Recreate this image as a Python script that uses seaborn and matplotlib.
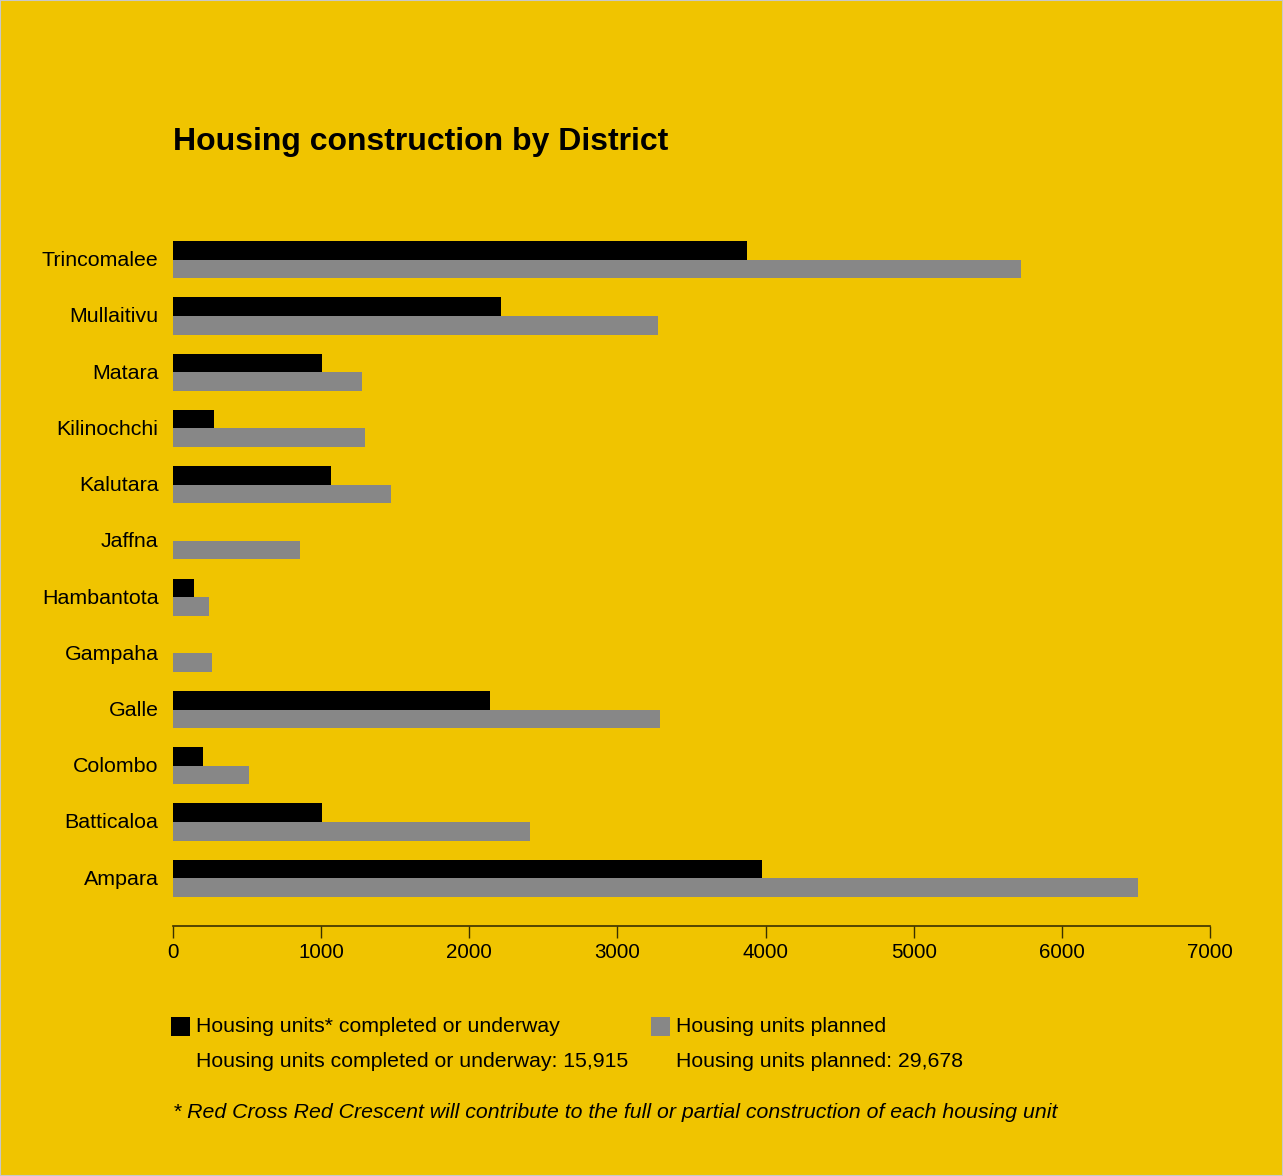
import matplotlib
matplotlib.use("Agg")
import matplotlib.pyplot as plt
from matplotlib.patches import Rectangle
import seaborn as sns
import pandas as pd

districts = ["Trincomalee", "Mullaitivu", "Matara", "Kilinochchi", "Kalutara", "Jaffna",
             "Hambantota", "Gampaha", "Galle", "Colombo", "Batticaloa", "Ampara"]
completed = [3875, 2215, 1005, 277, 1067, 0, 142, 0, 2140, 203, 1006, 3977]
planned = [5725, 3275, 1276, 1296, 1472, 858, 243, 263, 3288, 513, 2410, 6516]
series = ["Housing units* completed or underway", "Housing units planned"]
xticks = [0, 1000, 2000, 3000, 4000, 5000, 6000, 7000]
title = "Housing construction by District"
total_lines = ["Housing units completed or underway: 15,915", "Housing units planned: 29,678"]
footnote = "* Red Cross Red Crescent will contribute to the full or partial construction of each housing unit"

BG = "#F0C400"
COLORS = ["#000000", "#878787"]

df = pd.DataFrame({
    "District": districts * 2,
    "Units": completed + planned,
    "Series": [series[0]] * len(districts) + [series[1]] * len(districts),
})

sns.set_theme(style="white")
plt.rcParams["font.family"] = ["Liberation Sans", "DejaVu Sans"]
plt.rcParams["text.color"] = "black"
plt.rcParams["axes.labelcolor"] = "black"
plt.rcParams["xtick.color"] = "black"
plt.rcParams["ytick.color"] = "black"

W, H = 1283, 1176
fig = plt.figure(figsize=(W / 100, H / 100), dpi=100, facecolor=BG)
ax = fig.add_axes([173 / W, 1 - 926 / H, (1210 - 173) / W, (926 - 226) / H])
ax.set_facecolor(BG)

sns.barplot(data=df, y="District", x="Units", hue="Series", order=districts,
            hue_order=series, palette=COLORS, orient="h", width=0.66,
            linewidth=0, saturation=1, ax=ax, legend=False)

ax.set_xlim(0, 7000)
ax.set_ylim(11.85, -0.6)
ax.set_xticks(xticks)
ax.set_xticklabels([str(t) for t in xticks])
ax.set_xlabel("")
ax.set_ylabel("")
for s in ["top", "right", "left"]:
    ax.spines[s].set_visible(False)
ax.spines["bottom"].set_color("#3a3000")
ax.spines["bottom"].set_linewidth(1.2)
ax.tick_params(axis="x", direction="out", length=8.5, width=1, color="#3a3000",
               labelsize=14.8, pad=3.5, labelcolor="black", bottom=True)
ax.tick_params(axis="y", length=0, labelsize=15.4, pad=10.5, labelcolor="black")
shift = matplotlib.transforms.ScaledTranslation(0, 1 / 100, fig.dpi_scale_trans)
for lbl in ax.get_yticklabels():
    lbl.set_transform(lbl.get_transform() + shift)

fig.text(173 / W, 1 - 150 / H, title, fontsize=23, fontweight="bold", va="baseline", ha="left", color="black")

# legend
for x0, col in [(171, COLORS[0]), (651, COLORS[1])]:
    fig.patches.append(Rectangle((x0 / W, 1 - 1036 / H), 19 / W, 19 / H,
                                 transform=fig.transFigure, facecolor=col, edgecolor="none"))
fs = 15.35
fig.text(196 / W, 1 - 1032 / H, series[0], fontsize=fs, va="baseline", ha="left")
fig.text(676 / W, 1 - 1032 / H, series[1], fontsize=fs, va="baseline", ha="left")
fig.text(196 / W, 1 - 1067 / H, total_lines[0], fontsize=fs, va="baseline", ha="left")
fig.text(676 / W, 1 - 1067 / H, total_lines[1], fontsize=fs, va="baseline", ha="left")
fig.text(173 / W, 1 - 1118 / H, footnote, fontsize=fs, style="italic", va="baseline", ha="left")

fig.patches.append(Rectangle((0, 0), 1, 1, transform=fig.transFigure, facecolor="none",
                             edgecolor="#c8c8c8", linewidth=1.5))

fig.savefig("out.png", dpi=100, facecolor=BG)
